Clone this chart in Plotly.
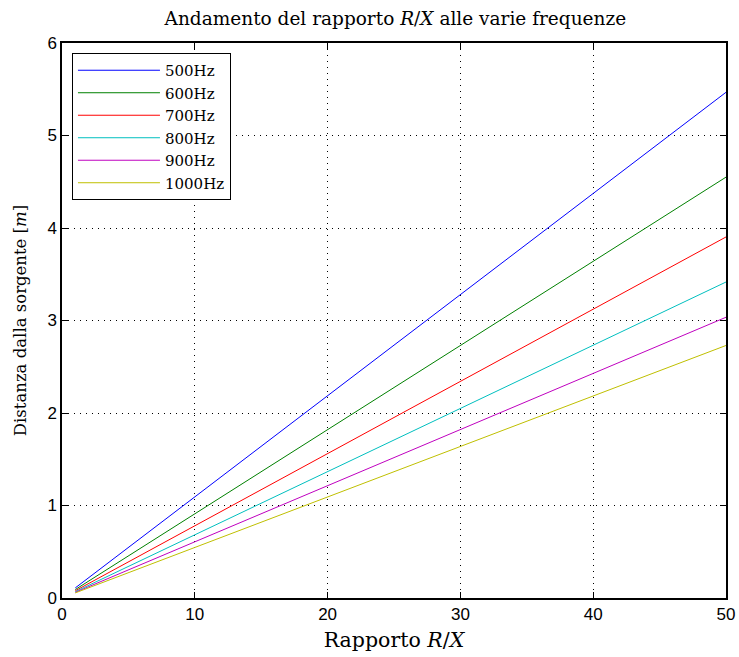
import plotly.graph_objects as go

ratio = [1, 50]
freq_labels = ["500Hz", "600Hz", "700Hz", "800Hz", "900Hz", "1000Hz"]
dist_500 = [0.109, 5.467]
dist_600 = [0.091, 4.550]
dist_700 = [0.078, 3.903]
dist_800 = [0.068, 3.416]
dist_900 = [0.061, 3.035]
dist_1000 = [0.055, 2.730]
series = [dist_500, dist_600, dist_700, dist_800, dist_900, dist_1000]
colors = ["#0000ff", "#008000", "#ff0000", "#00bfbf", "#bf00bf", "#bfbf00"]

serif = "DejaVu Serif, Liberation Serif, serif"
sans = "Liberation Sans, Arial, sans-serif"

fig = go.Figure()
for name, ys, c in zip(freq_labels, series, colors):
    fig.add_trace(go.Scatter(x=ratio, y=ys, mode="lines", name=name,
                             line=dict(color=c, width=1)))

axis_common = dict(
    showline=True, linecolor="black", linewidth=1.5, mirror="ticks",
    ticks="inside", ticklen=6, tickcolor="black", tickwidth=1,
    showgrid=True, gridcolor="black", gridwidth=1, griddash="1px,5px",
    zeroline=False, automargin=False,
    tickfont=dict(family=sans, size=17, color="black"),
)

fig.update_layout(
    width=739, height=657,
    margin=dict(l=62, r=13, t=43, b=59),
    paper_bgcolor="white", plot_bgcolor="white",
    title=dict(text="Andamento del rapporto <i>R</i>/<i>X</i> alle varie frequenze",
               x=0.535, xanchor="center", y=0.972, yanchor="middle",
               font=dict(family=serif, size=18.5, color="black")),
    xaxis=dict(range=[0, 50], tickvals=[0, 10, 20, 30, 40, 50],
               title=dict(text="Rapporto <i>R</i>/<i>X</i>", standoff=9,
                          font=dict(family=serif, size=20.5, color="black")),
               **axis_common),
    yaxis=dict(range=[0, 6], tickvals=[0, 1, 2, 3, 4, 5, 6],
               title=dict(text="Distanza dalla sorgente [<i>m</i>]", standoff=17,
                          font=dict(family=serif, size=16.5, color="black")),
               **axis_common),
    legend=dict(x=0.015, y=0.982, xanchor="left", yanchor="top",
                bgcolor="white", bordercolor="black", borderwidth=1,
                font=dict(family=serif, size=15, color="black"),
                tracegroupgap=0, itemwidth=82),
    showlegend=True,
)

fig.write_html("out.html")
